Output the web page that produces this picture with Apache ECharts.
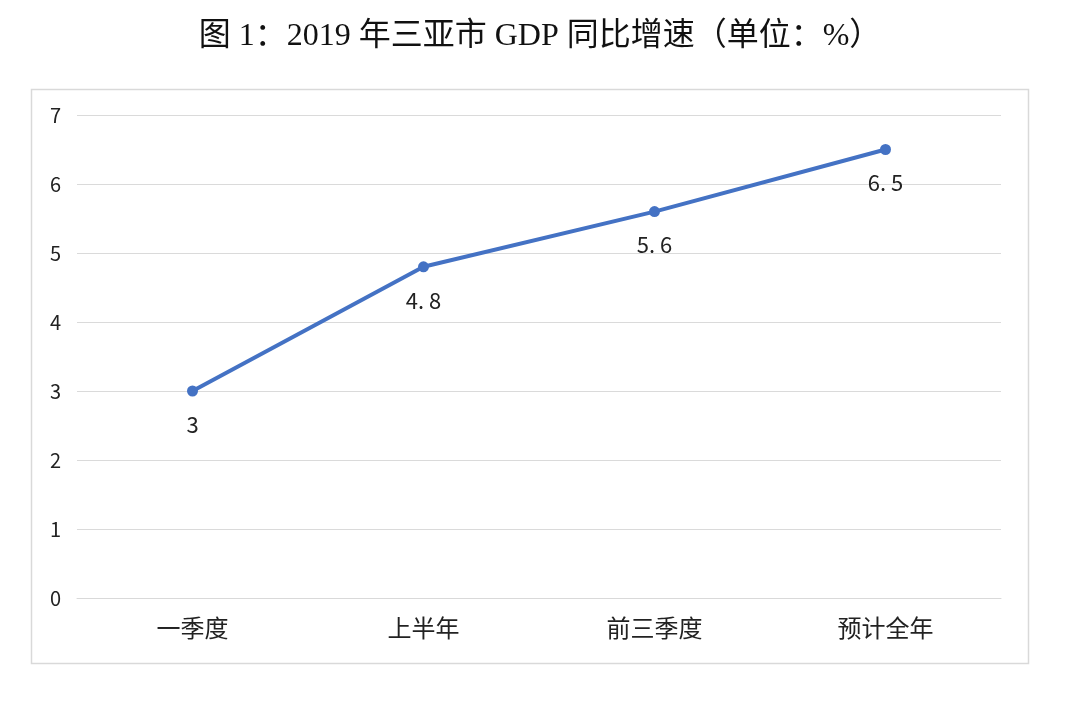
<!DOCTYPE html>
<html><head><meta charset="utf-8">
<script src="https://cdn.jsdelivr.net/npm/echarts@6/dist/echarts.min.js"></script>
<style>html,body{margin:0;padding:0;background:#fff}#c{width:1080px;height:702px}</style>
</head><body><div id="c"></div>
<script>
const categories = ['一季度', '上半年', '前三季度', '预计全年'];
const growth = [3, 4.8, 5.6, 6.5];
const yTicks = [0, 1, 2, 3, 4, 5, 6, 7];

const chart = echarts.init(document.getElementById('c'));
chart.setOption({
  animation: false,
  backgroundColor: '#fff',
  title: {
    text: '图 1：2019 年三亚市 GDP 同比增速（单位：%）',
    left: 'center', top: 16,
    textStyle: { fontFamily: 'Liberation Serif, Noto Sans CJK SC', fontSize: 32, fontWeight: 'normal', color: '#111' }
  },
  graphic: [{
    type: 'rect', left: 29, top: 87,
    shape: { width: 997, height: 574 },
    style: { fill: 'none', stroke: '#d9d9d9', lineWidth: 1.5 }
  }],
  grid: { left: 77, right: 79, top: 115, bottom: 104 },
  xAxis: {
    type: 'category', data: categories, boundaryGap: true,
    axisLine: { show: true, lineStyle: { color: '#d9d9d9' } },
    axisTick: { show: false },
    axisLabel: { fontSize: 24, color: '#222', margin: 18, fontFamily: 'Noto Sans CJK SC' }
  },
  yAxis: {
    type: 'value', min: yTicks[0], max: yTicks[yTicks.length - 1], interval: 1,
    axisLine: { show: false }, axisTick: { show: false },
    axisLabel: { fontSize: 20, color: '#222', margin: 16, fontFamily: 'Noto Sans CJK SC' },
    splitLine: { lineStyle: { color: '#dadada', width: 1 } }
  },
  series: [{
    type: 'line', data: growth,
    lineStyle: { color: '#4472C4', width: 4 },
    itemStyle: { color: '#4472C4' },
    symbol: 'circle', symbolSize: 11,
    label: {
      show: true, position: 'bottom', distance: 17,
      fontSize: 22, color: '#222', fontFamily: 'Noto Sans CJK SC',
      formatter: p => String(p.value).replace('.', '. ')
    }
  }]
});
</script></body></html>
